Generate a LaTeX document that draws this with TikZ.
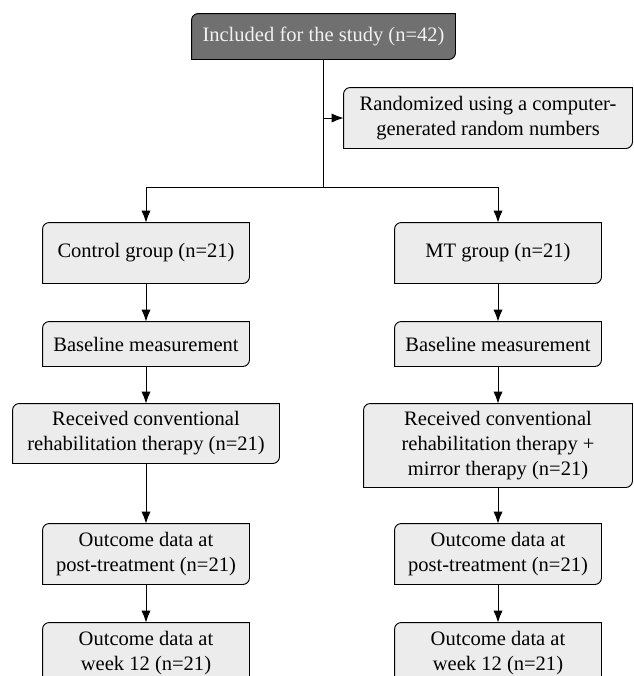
\documentclass[tikz,border=0pt]{standalone}
\usepackage{fontspec}
\setmainfont{Liberation Serif}
\usetikzlibrary{arrows.meta,backgrounds}
\definecolor{boxfill}{RGB}{236,236,236}
\definecolor{darkfill}{RGB}{112,112,112}
\definecolor{darktext}{RGB}{242,242,242}
\tikzset{
  flowbox/.style={inner sep=0pt,align=center,font=\fontsize{15.4}{18.8}\selectfont},
  grpbox/.style={flowbox,minimum width=154.5pt,minimum height=45pt},
  arr/.style={-{Latex[length=9pt,width=7pt]}},
}
% outline with rounded top-left and bottom-right corners
\newcommand{\cornerbox}[2]{%
  \draw[line width=0.7pt,fill=#2] (#1.south west) -- ([yshift=-5pt]#1.north west)
    arc[start angle=180,end angle=90,radius=5pt] -- (#1.north east)
    -- ([yshift=5pt]#1.south east) arc[start angle=0,end angle=-90,radius=5pt] -- cycle;}
\begin{document}
\begin{tikzpicture}[x=0.75pt,y=-0.75pt,line width=0.7pt]
    \useasboundingbox (0,0) rectangle (634,676);
    %% top
    \node[flowbox,text=darktext,minimum width=197.25pt,minimum height=33.75pt] (incl) at (323.5,36.5) {Included for the study (n=42)};
    \node[flowbox,minimum width=216pt,minimum height=45pt] (rand) at (488,118) {Randomized using a computer-\\generated random numbers};
    %% control arm
    \node[grpbox] (ctrl) at (146,253) {Control group (n=21)};
    \node[grpbox,minimum height=33pt] (base1) at (146,344) {Baseline measurement};
    \node[grpbox,minimum width=199.5pt,minimum height=44.25pt] (recv1) at (146,433.5) {Received conventional\\rehabilitation therapy (n=21)};
    \node[grpbox] (post1) at (146,554) {Outcome data at\\post-treatment (n=21)};
    \node[grpbox] (wk1) at (146,653) {Outcome data at\\week 12 (n=21)};
    %% MT arm
    \node[grpbox] (mt) at (498,253) {MT group (n=21)};
    \node[grpbox,minimum height=33pt] (base2) at (498,344) {Baseline measurement};
    \node[grpbox,minimum width=201pt,minimum height=62.25pt] (recv2) at (498,445.5) {Received conventional\\rehabilitation therapy +\\mirror therapy (n=21)};
    \node[grpbox] (post2) at (498,554) {Outcome data at\\post-treatment (n=21)};
    \node[grpbox] (wk2) at (498,653) {Outcome data at\\week 12 (n=21)};
    \begin{scope}[on background layer]
        \cornerbox{incl}{darkfill}
        \foreach \n in {rand,ctrl,mt,base1,base2,recv1,recv2,post1,post2,wk1,wk2}
            \cornerbox{\n}{boxfill};
    \end{scope}
    %% connectors
    \coordinate (split) at (323.5,187);
    \coordinate (branch) at (incl.south |- rand.west);
    \draw (incl.south) -- (split);
    \draw[arr] (branch) -- (rand.west);
    \draw[arr] (split) -| (ctrl.north);
    \draw[arr] (split) -| (mt.north);
    \foreach \a/\b in {ctrl/base1,base1/recv1,recv1/post1,post1/wk1,mt/base2,base2/recv2,recv2/post2,post2/wk2}
        \draw[arr] (\a.south) -- (\b.north);
\end{tikzpicture}
\end{document}
